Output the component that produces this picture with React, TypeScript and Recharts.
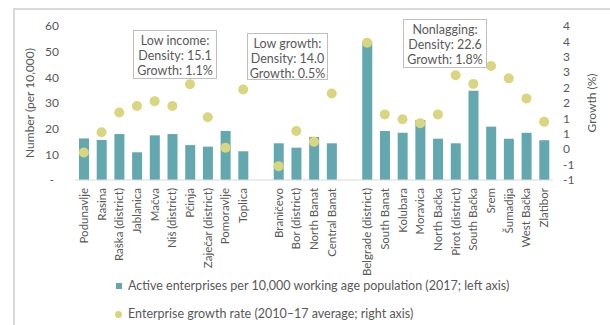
import React from 'react';
import { ComposedChart, Bar, Scatter, XAxis, YAxis } from 'recharts';

const lowIncomeDistricts = ['Podunavlje', 'Rasina', 'Raška (district)', 'Jablanica', 'Mačva', 'Niš (district)', 'Pčinja', 'Zaječar (district)', 'Pomoravlje', 'Toplica'];
const lowIncomeDensity = [16.2, 15.6, 17.9, 10.8, 17.4, 17.9, 13.6, 13.0, 19.1, 11.2];
const lowIncomeGrowth = [-0.11, 0.55, 1.19, 1.4, 1.56, 1.4, 2.11, 1.04, 0.05, 1.94];

const lowGrowthDistricts = ['Braničevo', 'Bor (district)', 'North Banat', 'Central Banat'];
const lowGrowthDensity = [14.3, 12.6, 16.8, 14.3];
const lowGrowthGrowth = [-0.55, 0.59, 0.24, 1.81];

const nonlaggingDistricts = ['Belgrade (district)', 'South Banat', 'Kolubara', 'Moravica', 'North Bačka', 'Pirot (district)', 'South Bačka', 'Srem', 'Šumadija', 'West Bačka', 'Zlatibor'];
const nonlaggingDensity = [53.9, 19.1, 18.4, 23.4, 16.1, 14.3, 34.8, 20.8, 16.1, 18.4, 15.5];
const nonlaggingGrowth = [3.46, 1.13, 0.97, 0.84, 1.13, 2.4, 2.12, 2.7, 2.3, 1.65, 0.89];

const leftTicks = [0, 10, 20, 30, 40, 50, 60];
const rightTicks = [-1, -0.5, 0, 0.5, 1, 1.5, 2, 2.5, 3, 3.5, 4];

const groupNotes = [
  ['Low income:', 'Density: 15.1', 'Growth: 1.1%'],
  ['Low growth:', 'Density: 14.0', 'Growth: 0.5%'],
  ['Nonlagging:', 'Density: 22.6', 'Growth: 1.8%'],
];

const legendLabels = [
  'Active enterprises per 10,000 working age population (2017; left axis)',
  'Enterprise growth rate (2010–17 average; right axis)',
];

type Row = { name: string; density: number | null; growth: number | null; gap?: boolean };

const buildGroup = (names: string[], dens: number[], gr: number[]): Row[] =>
  names.map((n, i) => ({ name: n, density: dens[i], growth: gr[i] }));

const data: Row[] = [
  ...buildGroup(lowIncomeDistricts, lowIncomeDensity, lowIncomeGrowth),
  { name: 'gap1', density: null, growth: null, gap: true },
  ...buildGroup(lowGrowthDistricts, lowGrowthDensity, lowGrowthGrowth),
  { name: 'gap2', density: null, growth: null, gap: true },
  ...buildGroup(nonlaggingDistricts, nonlaggingDensity, nonlaggingGrowth),
];

const FONT = 'Lato, "Open Sans", sans-serif';
const TEXT = '#595959';
const BAR = '#64A8AF';
const DOT = '#D9D67F';

const XTick = (props: any) => {
  const { x, y, payload } = props;
  const v: string = payload.value;
  if (v.startsWith('gap')) return null;
  return (
    <text
      x={x}
      y={y}
      transform={`rotate(-90, ${x}, ${y})`}
      textAnchor="end"
      dy="0.35em"
      fill={TEXT}
      fontSize={11.5}
      fontFamily={FONT}
    >
      {v}
    </text>
  );
};

const LeftTick = (props: any) => {
  const { x, y, payload } = props;
  const v = payload.value;
  return (
    <text x={v === 0 ? x - 5 : x} y={y} dy="0.35em" textAnchor="end" fill={TEXT} fontSize={12} fontFamily={FONT}>
      {v === 0 ? '-' : String(v)}
    </text>
  );
};

const excelRound = (v: number) => {
  const r = Math.sign(v) * Math.round(Math.abs(v));
  return r === 0 ? '0' : String(r);
};

const RightTick = (props: any) => {
  const { x, y, payload } = props;
  return (
    <text x={x} y={y} dy="0.35em" textAnchor="start" fill={TEXT} fontSize={12} fontFamily={FONT}>
      {excelRound(payload.value)}
    </text>
  );
};

const Dot = (props: any) => {
  const { cx, cy } = props;
  if (cx == null || cy == null || isNaN(cx) || isNaN(cy)) return null;
  return <circle cx={cx} cy={cy} r={5} fill={DOT} />;
};

const noteBoxes = [
  { left: 133, top: 30, width: 84, height: 49 },
  { left: 247, top: 33, width: 81, height: 47 },
  { left: 403, top: 19, width: 84, height: 49 },
];

export default function App() {
  return (
    <div style={{ position: 'absolute', left: 0, top: 0, width: 610, height: 325, background: '#fff', overflow: 'hidden', fontFamily: FONT }}>
      <div style={{ position: 'absolute', left: 13, top: 8, width: 620, height: 340, border: '2px solid #d9d9d9', boxSizing: 'border-box' }} />
      <ComposedChart
        width={610}
        height={325}
        data={data}
        margin={{ top: 26, right: 15, bottom: 55, left: 15 }}
        style={{ position: 'absolute', left: 0, top: 0 }}
      >
        <XAxis
          dataKey="name"
          type="category"
          interval={0}
          height={90}
          tick={<XTick />}
          tickLine={false}
          tickSize={0}
          tickMargin={8}
          axisLine={{ stroke: '#d9d9d9', strokeWidth: 1 }}
        />
        <YAxis
          yAxisId="left"
          orientation="left"
          width={60}
          domain={[0, 60]}
          ticks={leftTicks}
          interval={0}
          tick={<LeftTick />}
          axisLine={false}
          tickLine={false}
          tickSize={0}
          tickMargin={16}
          label={{ value: 'Number (per 10,000)', angle: -90, position: 'center', dx: -15, fill: TEXT, fontSize: 12, fontFamily: FONT }}
        />
        <YAxis
          yAxisId="right"
          orientation="right"
          width={42}
          domain={[-1, 4]}
          ticks={rightTicks}
          interval={0}
          tick={<RightTick />}
          axisLine={false}
          tickLine={false}
          tickSize={0}
          tickMargin={10}
          label={{ value: 'Growth (%)', angle: -90, position: 'center', dx: 18, fill: TEXT, fontSize: 12, fontFamily: FONT }}
        />
        <Bar yAxisId="left" dataKey="density" fill={BAR} barSize={10} isAnimationActive={false} />
        <Scatter yAxisId="right" dataKey="growth" fill={DOT} shape={<Dot />} isAnimationActive={false} />
      </ComposedChart>
      {noteBoxes.map((b, i) => (
        <div
          key={i}
          style={{
            position: 'absolute',
            left: b.left,
            top: b.top,
            width: b.width,
            height: b.height,
            border: '1.5px solid #bfbfbf',
            background: '#fff',
            boxSizing: 'border-box',
            color: TEXT,
            fontSize: 12.5,
            lineHeight: '15px',
            textAlign: 'center',
            paddingTop: 2,
            whiteSpace: 'nowrap',
          }}
        >
          {groupNotes[i].map((t, j) => (
            <div key={j}>{t}</div>
          ))}
        </div>
      ))}
      <div style={{ position: 'absolute', left: 116, top: 277, color: TEXT, fontSize: 12.5, lineHeight: '18px', display: 'flex', alignItems: 'center' }}>
        <span style={{ display: 'inline-block', width: 6, height: 6, background: BAR, marginRight: 6 }} />
        {legendLabels[0]}
      </div>
      <div style={{ position: 'absolute', left: 115, top: 305, color: TEXT, fontSize: 12.5, lineHeight: '18px', display: 'flex', alignItems: 'center' }}>
        <span style={{ display: 'inline-block', width: 7, height: 7, borderRadius: '50%', background: DOT, marginRight: 6 }} />
        {legendLabels[1]}
      </div>
    </div>
  );
}
